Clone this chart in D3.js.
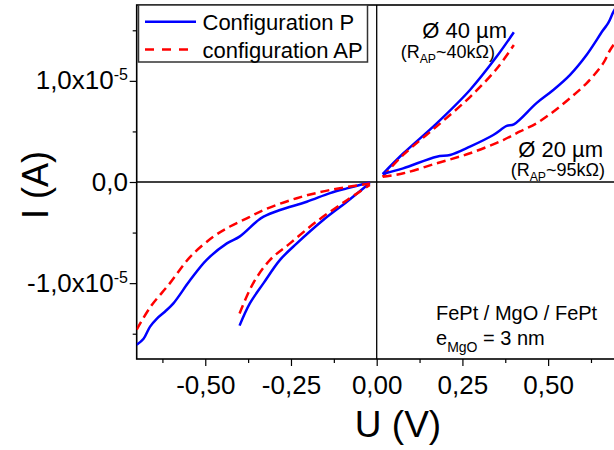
<!DOCTYPE html>
<html><head><meta charset="utf-8">
<script src="https://cdn.jsdelivr.net/npm/d3@7"></script>
<style>body{margin:0;background:#fff}svg{display:block;font-family:"Liberation Sans",Arial,Helvetica,sans-serif}</style>
</head><body><svg id="c" width="614" height="450"></svg>
<script>
// ---- data ----
const xTicks = [-0.50, -0.25, 0.00, 0.25, 0.50];
const xMinor = [-0.625, -0.375, -0.125, 0.125, 0.375, 0.625];
const yTicks = [-1, 0, 1];               // units of 1e-5 A
const yTickMain = ["-1,0x10", "0,0", "1,0x10"];
const yTickExp = ["-5", "", "-5"];
const yMinor = [-1.5, -0.5, 0.5, 1.5];
const seriesNames = ["Configuration P", "configuration AP"];
const seriesColors = ["#0000ff", "#ff0000"];

// Ø 40 µm, configuration P / AP  (U in V, I in 1e-5 A)
const u40P  = [-0.40, -0.37, -0.33, -0.282, -0.233, -0.156, -0.087, -0.02, 0.0175, 0.078, 0.175, 0.272, 0.35, 0.40];
const i40P  = [-1.42, -1.20, -1.00, -0.77, -0.607, -0.376, -0.195, -0.01, 0.079, 0.284, 0.58, 0.91, 1.24, 1.48];
const u40AP = [-0.40, -0.36, -0.311, -0.253, -0.175, -0.087, -0.02, 0.0175, 0.078, 0.175, 0.272, 0.35, 0.40];
const i40AP = [-1.30, -1.00, -0.77, -0.607, -0.39, -0.18, -0.03, 0.052, 0.27, 0.55, 0.84, 1.12, 1.355];
// Ø 20 µm, configuration P / AP
const u20P  = [-0.70, -0.68, -0.661, -0.641, -0.617, -0.593, -0.544, -0.496, -0.437, -0.40, -0.35, -0.33, -0.282, -0.204, -0.136, -0.087, -0.02,
               0.0175, 0.077, 0.175, 0.214, 0.272, 0.34, 0.379, 0.40, 0.466, 0.515, 0.564, 0.612, 0.66, 0.675, 0.69, 0.70];
const i20P  = [-1.61, -1.55, -1.43, -1.35, -1.28, -1.20, -0.97, -0.77, -0.607, -0.54, -0.39, -0.343, -0.277, -0.195, -0.11, -0.063, -0.005,
               0.079, 0.135, 0.25, 0.267, 0.35, 0.465, 0.554, 0.57, 0.78, 0.91, 1.06, 1.256, 1.50, 1.57, 1.68, 1.74];
const u20AP = [-0.70, -0.661, -0.603, -0.544, -0.476, -0.428, -0.379, -0.33, -0.233, -0.136, -0.02,
               0.0175, 0.078, 0.175, 0.272, 0.369, 0.418, 0.466, 0.515, 0.564, 0.612, 0.66, 0.68, 0.70];
const i20AP = [-1.46, -1.24, -1.00, -0.74, -0.54, -0.44, -0.36, -0.277, -0.16, -0.079, -0.015,
               0.052, 0.086, 0.185, 0.284, 0.415, 0.50, 0.58, 0.695, 0.83, 0.976, 1.17, 1.30, 1.40];

const series = [
  {u: u40P, i: i40P, s: 0}, {u: u40AP, i: i40AP, s: 1},
  {u: u20P, i: i20P, s: 0}, {u: u20AP, i: i20AP, s: 1}
];

// ---- chart ----
const svg = d3.select("#c");
const L = 136.7, R = 616.7, T = 5, B = 359;
const x = d3.scaleLinear().domain([-0.70, 0.70]).range([L, R]);
const y = d3.scaleLinear().domain([-1.75e-5, 1.75e-5]).range([B, T]);
const loc = d3.formatLocale({decimal: ",", thousands: ".", grouping: [3], currency: ["", ""], minus: "-"});
const fx = loc.format(".2f");

svg.append("clipPath").attr("id", "clip").append("rect")
  .attr("x", L).attr("y", T).attr("width", R - L).attr("height", B - T);

// zero lines
svg.append("line").attr("x1", L).attr("x2", R).attr("y1", y(0)).attr("y2", y(0))
  .attr("stroke", "#000").attr("stroke-width", 1.3);
svg.append("line").attr("x1", x(0)).attr("x2", x(0)).attr("y1", T).attr("y2", B)
  .attr("stroke", "#000").attr("stroke-width", 1.3);

// axes
const gx = svg.append("g").attr("transform", `translate(0,${B})`)
  .call(d3.axisBottom(x).tickValues(xTicks).tickSize(7).tickPadding(10).tickFormat(fx));
const gxm = svg.append("g").attr("transform", `translate(0,${B})`)
  .call(d3.axisBottom(x).tickValues(xMinor).tickSize(4).tickFormat(""));
const gy = svg.append("g").attr("transform", `translate(${L},0)`)
  .call(d3.axisLeft(y).tickValues(yTicks.map(v => v * 1e-5)).tickSize(7).tickFormat(""));
const gym = svg.append("g").attr("transform", `translate(${L},0)`)
  .call(d3.axisLeft(y).tickValues(yMinor.map(v => v * 1e-5)).tickSize(4).tickFormat(""));
[gx, gxm, gy, gym].forEach(g => {
  g.select(".domain").remove();
  g.selectAll(".tick line").attr("stroke", "#000").attr("stroke-width", 1.2);
});
gx.selectAll(".tick text").attr("font-size", 26).attr("fill", "#000")
  .attr("font-family", '"Liberation Sans",Arial,sans-serif').attr("dy", 0).attr("y", 35);

// y tick labels with exponent
yTicks.forEach((v, k) => {
  const t = svg.append("text").attr("x", 128).attr("y", y(v * 1e-5) + 8.5)
    .attr("text-anchor", "end").attr("font-size", 26).attr("fill", "#000");
  t.append("tspan").text(yTickMain[k]);
  if (yTickExp[k]) t.append("tspan").attr("dy", -9).attr("font-size", 16).text(yTickExp[k]);
});

// frame
svg.append("rect").attr("x", L).attr("y", T).attr("width", R - L).attr("height", B - T)
  .attr("fill", "none").attr("stroke", "#000").attr("stroke-width", 1.6);

// curves: negative and positive bias sweeps drawn as separate branches
const line = d3.line().x(d => x(d[0])).y(d => y(d[1])).curve(d3.curveCatmullRom.alpha(0.5));
const gl = svg.append("g").attr("clip-path", "url(#clip)");
series.forEach(se => {
  const pts = se.u.map((u, k) => [u, se.i[k] * 1e-5]);
  [pts.filter(p => p[0] < 0), pts.filter(p => p[0] > 0)].forEach(branch => {
    gl.append("path").datum(branch).attr("d", line).attr("fill", "none")
      .attr("stroke", seriesColors[se.s]).attr("stroke-width", 2.5)
      .attr("stroke-dasharray", se.s === 1 ? "9,5" : null);
  });
});

// legend
const lg = svg.append("g");
lg.append("rect").attr("x", 138.5).attr("y", 5).attr("width", 229).attr("height", 57)
  .attr("fill", "#fff").attr("stroke", "#333").attr("stroke-width", 1.5);
[21.7, 49.5].forEach((ly, k) => {
  lg.append("line").attr("x1", 145).attr("x2", 196).attr("y1", ly).attr("y2", ly)
    .attr("stroke", seriesColors[k]).attr("stroke-width", 2.5)
    .attr("stroke-dasharray", k === 1 ? "9,8" : null);
  lg.append("text").attr("x", 202.5).attr("y", ly + 8.5).attr("font-size", 22).attr("fill", "#000")
    .text(seriesNames[k]);
});

// annotations
function annot(xr, yb, size, parts) {
  const t = svg.append("text").attr("x", xr).attr("y", yb).attr("text-anchor", "end")
    .attr("font-size", size).attr("fill", "#000");
  parts.forEach(p => {
    const s = t.append("tspan").text(p[0]);
    if (p[1] === "sub") s.attr("font-size", size * 0.68).attr("dy", size * 0.28);
    if (p[1] === "back") s.attr("dy", -size * 0.28);
  });
  return t;
}
annot(507, 38, 22, [["Ø 40 µm"]]);
annot(495, 58, 18, [["(R"], ["AP", "sub"], ["~40kΩ)", "back"]]);
annot(603, 157, 22, [["Ø 20 µm"]]);
annot(605, 176, 18, [["(R"], ["AP", "sub"], ["~95kΩ)", "back"]]);

svg.append("text").attr("x", 436).attr("y", 320).attr("font-size", 20).attr("fill", "#000")
  .text("FePt / MgO / FePt");
const em = svg.append("text").attr("x", 436).attr("y", 345).attr("font-size", 20).attr("fill", "#000");
em.append("tspan").text("e");
em.append("tspan").attr("font-size", 14).attr("dy", 7).text("MgO");
em.append("tspan").attr("dy", -7).text(" = 3 nm");

// axis titles
svg.append("text").attr("x", 398).attr("y", 437).attr("text-anchor", "middle")
  .attr("font-size", 37).attr("fill", "#000").text("U (V)");
svg.append("text").attr("transform", `translate(48,${185}) rotate(-90)`).attr("text-anchor", "middle")
  .attr("font-size", 36).attr("fill", "#000").text("I (A)");
</script></body></html>
